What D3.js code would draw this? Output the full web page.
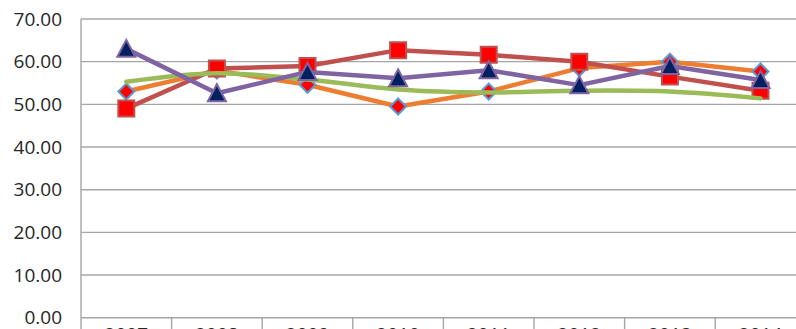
<!DOCTYPE html>
<html>
<head>
<meta charset="utf-8">
<script src="https://cdn.jsdelivr.net/npm/d3@7"></script>
<style>
  html, body { margin: 0; padding: 0; background: #fff; overflow: hidden; }
  text { font-family: "Open Sans", "Liberation Sans", sans-serif; }
</style>
</head>
<body>
<div id="chart"></div>
<script>
// categories + series
var years = ['2007','2008','2009','2010','2011','2012','2013','2014'];
var orangeVals = [53.0, 57.9, 54.6, 49.5, 53.0, 58.5, 60.0, 57.7];
var redVals    = [49.0, 58.4, 59.0, 62.7, 61.6, 60.0, 56.5, 53.2];
var greenVals  = [55.3, 57.3, 55.8, 53.5, 52.8, 53.2, 53.0, 51.4];
var purpleVals = [63.0, 52.6, 57.6, 56.1, 58.0, 54.5, 59.0, 55.7];
var yTicks = [0, 10, 20, 30, 40, 50, 60, 70];

function drawChart(){

    var W = 796, H = 329;
    // plot box (window.top is reserved, so plotTop)
    var plotLeft = 81, plotTop = 19, plotBottom = 317.7, band = 90.6;

    var svg = d3.select("#chart")
        .append("svg")
        .attr("width", W)
        .attr("height", H);

    var x = d3.scaleBand()
        .domain(years)
        .range([plotLeft, plotLeft + band * years.length]);

    var y = d3.scaleLinear()
        .domain([0, 70])
        .range([plotBottom, plotTop]);

    // gridlines
    svg.append("g")
        .selectAll("line")
        .data(yTicks)
        .enter().append("line")
        .attr("x1", plotLeft).attr("x2", W)
        .attr("y1", function(d){ return y(d); })
        .attr("y2", function(d){ return y(d); })
        .attr("stroke", "#a6a6a6")
        .attr("stroke-width", 1.4);

    // y axis line + labels
    svg.append("line")
        .attr("x1", plotLeft).attr("x2", plotLeft)
        .attr("y1", plotTop).attr("y2", plotBottom)
        .attr("stroke", "#a6a6a6")
        .attr("stroke-width", 1.4);

    svg.append("g")
        .selectAll("text")
        .data(yTicks)
        .enter().append("text")
        .attr("x", 62)
        .attr("y", function(d){ return y(d); })
        .attr("dy", "0.35em")
        .attr("text-anchor", "end")
        .attr("font-size", 19)
        .attr("fill", "#262626")
        .text(function(d){ return d3.format(".2f")(d); });

    // x axis: labels sit below the window edge, only their tops show
    var xAxis = svg.append("g")
        .attr("transform", "translate(0," + plotBottom + ")")
        .call(d3.axisBottom(x).tickSize(0).tickSizeOuter(0));
    xAxis.select(".domain").remove();
    xAxis.selectAll("text")
        .attr("font-size", 19)
        .attr("fill", "#262626")
        .attr("font-family", "Open Sans, Liberation Sans, sans-serif")
        .attr("dy", 0)
        .attr("y", 23);

    // category separators
    svg.append("g")
        .selectAll("line")
        .data(d3.range(years.length + 1))
        .enter().append("line")
        .attr("x1", function(d){ return plotLeft + band * d; })
        .attr("x2", function(d){ return plotLeft + band * d; })
        .attr("y1", plotBottom).attr("y2", H)
        .attr("stroke", "#a6a6a6")
        .attr("stroke-width", 1.4);

    function cx(i){ return x(years[i]) + x.bandwidth() / 2; }

    var straight = d3.line()
        .x(function(d, i){ return cx(i); })
        .y(function(d){ return y(d); });

    var smooth = d3.line()
        .x(function(d, i){ return cx(i); })
        .y(function(d){ return y(d); })
        .curve(d3.curveCatmullRom.alpha(0.5));

    // marker shapes, centred in their box like excel does
    var s = 8;
    var shapes = {
        diamond: "M0," + (-s) + "L" + s + ",0L0," + s + "L" + (-s) + ",0Z",
        square: "M" + (-s) + "," + (-s) + "h" + (2*s) + "v" + (2*s) + "h" + (-2*s) + "Z",
        triangle: "M0," + (-s - 1) + "L" + (s + 1) + "," + s + "L" + (-s - 1) + "," + s + "Z"
    };

    var series = [
        {vals: orangeVals, line: "#ed7d31", gen: straight, shape: "diamond",  fill: "#ff0000", edge: "#5b9bd5"},
        {vals: redVals,    line: "#c0504d", gen: straight, shape: "square",   fill: "#ff0000", edge: "#c0504d"},
        {vals: greenVals,  line: "#9bbb59", gen: smooth,   shape: null},
        {vals: purpleVals, line: "#8064a2", gen: straight, shape: "triangle", fill: "#002060", edge: "#8064a2"}
    ];

    series.forEach(function(sr){
        var g = svg.append("g");
        g.append("path")
            .attr("d", sr.gen(sr.vals))
            .attr("fill", "none")
            .attr("stroke", sr.line)
            .attr("stroke-width", 4.5)
            .attr("stroke-linejoin", "round")
            .attr("stroke-linecap", "round");
        if (sr.shape) {
            g.selectAll(".m")
                .data(sr.vals)
                .enter().append("path")
                .attr("class", "m")
                .attr("transform", function(d, i){ return "translate(" + cx(i) + "," + y(d) + ")"; })
                .attr("d", shapes[sr.shape])
                .attr("fill", sr.fill)
                .attr("stroke", sr.edge)
                .attr("stroke-width", 2);
        }
    });
}

drawChart();
</script>
</body>
</html>
